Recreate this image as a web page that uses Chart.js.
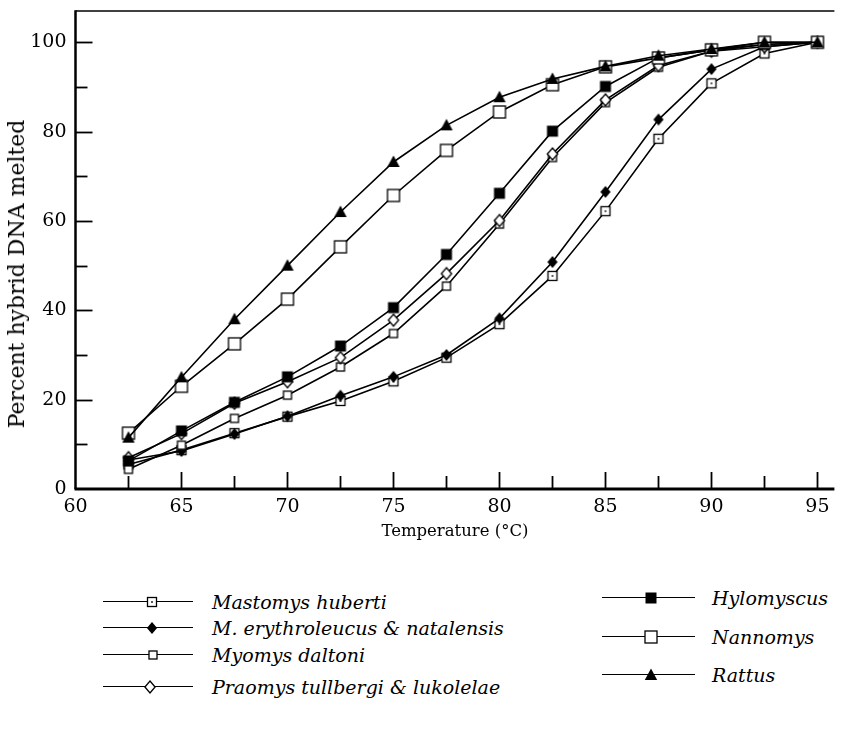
<!DOCTYPE html>
<html lang="en">
<head>
<meta charset="UTF-8">
<title>Hybrid DNA melting curves</title>
<script src="https://cdn.jsdelivr.net/npm/chart.js"></script>
<style>
  body { margin: 0; background: #fff; width: 842px; height: 732px; overflow: hidden; position: relative; font-family: "DejaVu Serif", serif; }
  #wrap { position: absolute; left: 0; top: 0; width: 842px; height: 550px; }
  #ytitle { position: absolute; left: 17px; top: 274px; width: 0; height: 0; }
  #ytitle span { position: absolute; left: 0; top: 0; transform: translate(-50%, -50%) rotate(-90deg); font-size: 22px; line-height: 26px; white-space: nowrap; color: #000; }
  .leg { position: absolute; height: 0; }
  .leg .ln { position: absolute; top: -0.75px; border-top: 1.5px solid #000; }
  .leg img { position: absolute; }
  .leg span { position: absolute; top: -13px; font-style: italic; font-size: 19px; line-height: 26px; white-space: nowrap; color: #000; }
</style>
</head>
<body>
<div id="wrap"><canvas id="chart"></canvas></div>
<div id="ytitle"><span>Percent hybrid DNA melted</span></div>
<div id="legend"></div>

<script>
// temperatures (°C) and percent hybrid DNA melted
const temps = [62.5, 65, 67.5, 70, 72.5, 75, 77.5, 80, 82.5, 85, 87.5, 90, 92.5, 95]
const mastomysHuberti = [5.5, 8.7, 12.5, 16.2, 19.7, 24.1, 29.4, 36.9, 47.7, 62.2, 78.4, 90.8, 97.5, 100]
const mErythroleucus = [6.5, 8.5, 12.3, 16.3, 20.9, 25.1, 30, 38.2, 50.8, 66.5, 82.7, 94, 99, 100]
const myomysDaltoni = [4.4, 9.8, 15.8, 21, 27.3, 34.8, 45.4, 59.3, 74.2, 86.5, 94.4, 98, 99.5, 100]
const praomys = [7, 12.4, 19.2, 24, 29.4, 37.8, 48.2, 60.1, 75, 87.1, 94.8, 98, 99, 100]
const hylomyscus = [6.3, 13, 19.4, 25.1, 32, 40.6, 52.5, 66.2, 80.1, 90.1, 96.5, 98.3, 99.5, 100]
const nannomys = [12.5, 23, 32.5, 42.5, 54.2, 65.7, 75.8, 84.4, 90.5, 94.5, 96.5, 98.3, 100, 100]
const rattus = [11.5, 25, 38, 50, 62, 73.2, 81.4, 87.7, 91.8, 94.6, 97, 98.5, 100, 100]

const seriesNames = ['Mastomys huberti', 'M. erythroleucus & natalensis', 'Myomys daltoni',
  'Praomys tullbergi & lukolelae', 'Hylomyscus', 'Nannomys', 'Rattus']
const seriesValues = [mastomysHuberti, mErythroleucus, myomysDaltoni, praomys, hylomyscus, nannomys, rattus]
const seriesMarkers = ['dotSquare', 'diamondFilled', 'smallSquare', 'diamondOpen', 'squareFilled', 'squareOpen', 'triangle']

const xTicks = [60, 65, 70, 75, 80, 85, 90, 95]
const yTicks = [0, 20, 40, 60, 80, 100]
const xTickMarks = [62.5, 65, 67.5, 70, 72.5, 75, 77.5, 80, 82.5, 85, 87.5, 90, 92.5, 95]
const yTickMarks = [10, 20, 30, 40, 50, 60, 70, 80, 90, 100]

// legend placement: [line start, line end, marker x, text x, row y]
const legendSlots = [
  [103, 193, 152, 212, 602],
  [103, 193, 152, 212, 628],
  [103, 193, 153, 212, 655],
  [103, 193, 150, 212, 687],
  [602, 695, 651, 712, 598],
  [602, 695, 651, 712, 637],
  [602, 695, 651, 712, 675]
]

function marker(kind) {
  const c = document.createElement('canvas')
  c.width = 16; c.height = 16
  const g = c.getContext('2d')
  g.lineWidth = 1.3
  g.strokeStyle = '#000'
  g.fillStyle = '#fff'
  const m = 8
  if (kind === 'dotSquare' || kind === 'smallSquare' || kind === 'squareOpen' || kind === 'squareFilled') {
    const h = { dotSquare: 4.5, smallSquare: 4, squareOpen: 6, squareFilled: 5.5 }[kind]
    if (kind === 'squareFilled') {
      g.fillStyle = '#000'
      g.fillRect(m - h, m - h, 2 * h, 2 * h)
    } else {
      g.fillRect(m - h, m - h, 2 * h, 2 * h)
      g.strokeRect(m - h, m - h, 2 * h, 2 * h)
    }
    if (kind === 'dotSquare') {
      g.fillStyle = '#000'
      g.fillRect(m - 0.8, m - 0.8, 1.6, 1.6)
    }
  } else if (kind === 'diamondFilled' || kind === 'diamondOpen') {
    const h = 6
    g.beginPath()
    g.moveTo(m, m - h); g.lineTo(m + h * 0.85, m); g.lineTo(m, m + h); g.lineTo(m - h * 0.85, m)
    g.closePath()
    if (kind === 'diamondFilled') { g.fillStyle = '#000'; g.fill() } else { g.fill(); g.stroke() }
  } else if (kind === 'triangle') {
    g.fillStyle = '#000'
    g.beginPath()
    g.moveTo(m, m - 6.5); g.lineTo(m + 6.2, m + 5); g.lineTo(m - 6.2, m + 5)
    g.closePath()
    g.fill()
  }
  return c
}

const markerCanvases = seriesMarkers.map(marker)

const frame = {
  id: 'frame',
  afterDraw(chart) {
    const { ctx, chartArea: a, scales: { x, y } } = chart
    ctx.save()
    ctx.strokeStyle = '#000'
    ctx.lineCap = 'butt'
    ctx.lineWidth = 1.8
    yTickMarks.forEach(v => {
      const py = Math.round(y.getPixelForValue(v)) + 0.5
      const len = v % 20 === 0 ? 17 : 12
      ctx.beginPath(); ctx.moveTo(a.left, py); ctx.lineTo(a.left + len, py); ctx.stroke()
    })
    xTickMarks.forEach(v => {
      const px = Math.round(x.getPixelForValue(v)) + 0.5
      const len = v % 5 === 0 ? 17 : 13
      ctx.beginPath(); ctx.moveTo(px, a.bottom); ctx.lineTo(px, a.bottom - len); ctx.stroke()
    })
    ctx.lineWidth = 1.5
    ctx.beginPath(); ctx.moveTo(a.left, a.top); ctx.lineTo(a.right, a.top); ctx.stroke()
    ctx.lineWidth = 2.5
    ctx.beginPath(); ctx.moveTo(a.left, a.top - 0.75); ctx.lineTo(a.left, a.bottom); ctx.stroke()
    ctx.lineWidth = 3
    ctx.beginPath(); ctx.moveTo(a.left - 1, a.bottom); ctx.lineTo(a.right, a.bottom); ctx.stroke()
    ctx.restore()
  }
}

const tickFont = { family: '"DejaVu Serif", serif', size: 19 }

const datasets = seriesNames.map((name, i) => ({
  label: name,
  data: temps.map((t, j) => ({ x: t, y: seriesValues[i][j] })),
  borderColor: '#000',
  borderWidth: 1.6,
  pointStyle: markerCanvases[i],
  pointRadius: 6,
  tension: 0,
  fill: false,
  order: seriesNames.length - i
}))

new Chart(document.getElementById('chart'), {
  type: 'line',
  data: { datasets },
  options: {
    responsive: true,
    maintainAspectRatio: false,
    animation: false,
    layout: { padding: { top: 11, right: 0, left: 0, bottom: 0 } },
    plugins: { legend: { display: false }, tooltip: { enabled: false } },
    scales: {
      x: {
        type: 'linear',
        min: 60,
        max: 95.8,
        afterBuildTicks: s => { s.ticks = xTicks.map(v => ({ value: v })) },
        afterFit: s => { s.height = 61; s.paddingLeft = 0; s.paddingRight = 0 },
        grid: { display: false, drawTicks: false },
        border: { display: false },
        ticks: { font: tickFont, color: '#000', padding: 7, maxRotation: 0, autoSkip: false },
        title: { display: true, text: 'Temperature (°C)', font: { family: '"DejaVu Serif", serif', size: 16.5 }, color: '#000', padding: { top: 0, bottom: 8 } }
      },
      y: {
        min: 0,
        max: 107,
        afterBuildTicks: s => { s.ticks = yTicks.map(v => ({ value: v })) },
        afterFit: s => { s.width = 75.5; s.paddingTop = 0; s.paddingBottom = 0 },
        grid: { display: false, drawTicks: false },
        border: { display: false },
        ticks: { font: tickFont, color: '#000', padding: 9 }
      }
    }
  },
  plugins: [frame]
})

// legend, drawn as page text next to line samples
const legend = document.getElementById('legend')
seriesNames.forEach((name, i) => {
  const [x0, x1, mx, tx, ry] = legendSlots[i]
  const item = document.createElement('div')
  item.className = 'leg'
  item.style.left = '0px'
  item.style.top = ry + 'px'
  const ln = document.createElement('div')
  ln.className = 'ln'
  ln.style.left = x0 + 'px'
  ln.style.width = (x1 - x0) + 'px'
  const img = document.createElement('img')
  img.src = markerCanvases[i].toDataURL()
  img.style.left = (mx - 8) + 'px'
  img.style.top = '-8px'
  const txt = document.createElement('span')
  txt.style.left = tx + 'px'
  txt.textContent = name
  item.append(ln, img, txt)
  legend.appendChild(item)
})
</script>
</body>
</html>
